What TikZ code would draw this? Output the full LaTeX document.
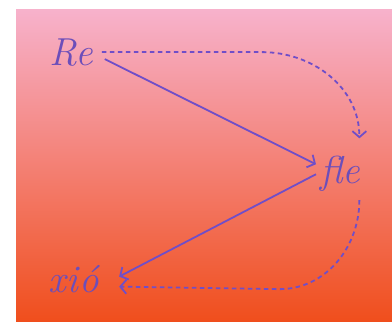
\documentclass[tikz,border=0pt]{standalone}
\usetikzlibrary{arrows.meta,calc}
\definecolor{txt}{RGB}{108,78,186}
\definecolor{arr}{RGB}{112,78,200}
\definecolor{topc}{RGB}{247,178,204}
\definecolor{midc}{RGB}{242,128,108}
\definecolor{botc}{RGB}{240,78,28}
\begin{document}
\begin{tikzpicture}[x=1pt,y=-1pt,
  word/.style={inner sep=0pt, anchor=base west, text=txt,
    font=\fontsize{39}{42}\selectfont\itshape},
  link/.style={draw=arr, line width=1.8pt,
    -{Straight Barb[length=6pt,width=14pt,line width=1.8pt]}},
  dlink/.style={link, dash pattern=on 4.5pt off 3.5pt}]
\useasboundingbox (0,0) rectangle (392,322);
\fill[white] (0,0) rectangle (392,322);
\shade[top color=topc, middle color=midc, bottom color=botc] (16,9) rectangle (392,322);
\node[word] (Re) at (49,65) {Re};
\node[word] (fle) at (320,183) {ﬂe};
\node[word] (xio) at (48,292) {x\kern1pt i\kern1pt ó};
\draw[link] ($(Re.east)+(12,7)$) -- ($(fle.west)+(-4,-9)$);
\draw[dlink] ($(Re.east)+(9,0)$) -- ++(160,0) to[out=0,in=90] ($(fle.north east)+(-1,-17)$);
\draw[link] ($(fle.west)+(-4,1)$) -- ($(xio.east)+(20,-2)$);
\draw[dlink] ($(fle.south east)+(-1,9)$) to[out=-90,in=0] ++(-80,89) -- ($(xio.east)+(20,8)$);
\end{tikzpicture}
\end{document}
